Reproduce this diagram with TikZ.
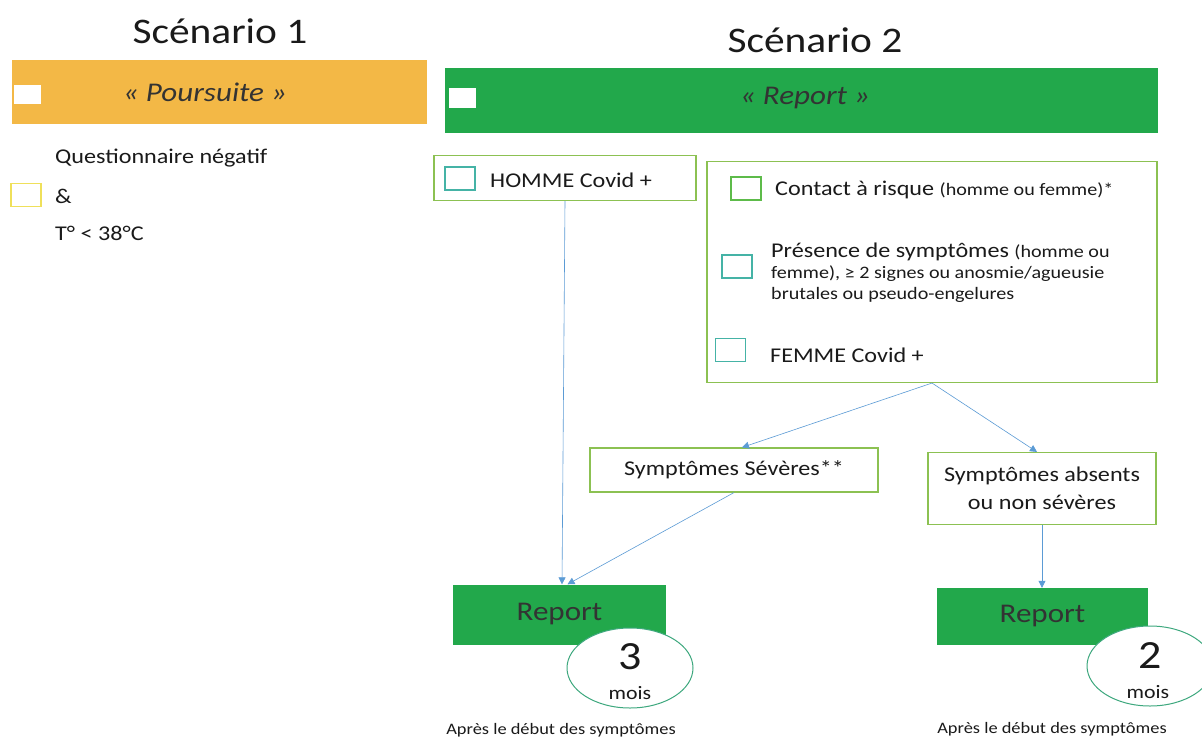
\documentclass[tikz,border=0pt]{standalone}
\usepackage{fontspec}
\setmainfont[FakeStretch=1.15]{Carlito}
\usetikzlibrary{arrows.meta,shapes.geometric}
\definecolor{orangebar}{HTML}{F3B846}
\definecolor{greenbar}{HTML}{22A84B}
\definecolor{boxline}{HTML}{8CC152}
\definecolor{tealsq}{HTML}{45B3A6}
\definecolor{greensq}{HTML}{5DBB4A}
\definecolor{yellowsq}{HTML}{EFE05A}
\definecolor{arrowblue}{HTML}{5B9BD5}
\definecolor{ellline}{HTML}{3EA87E}
\definecolor{txt}{HTML}{1A1A1A}
\definecolor{reptxt}{HTML}{333333}
\tikzset{
  title/.style={font=\fontsize{36}{42}\selectfont, text=txt, inner sep=0},
  bartext/.style={font=\fontsize{27}{31}\selectfont\itshape, text=reptxt, inner sep=0},
  body/.style={font=\fontsize{21}{25}\selectfont, text=txt, inner sep=0},
  outline/.style={draw=boxline, line width=1.1pt, fill=white, inner sep=0},
  chk/.style={line width=1.5pt, inner sep=0, minimum width=30, minimum height=23},
  repbox/.style={fill=greenbar, inner sep=0, text=reptxt, font=\fontsize{27}{32}\selectfont},
  months/.style={ellipse, draw=ellline, line width=1pt, fill=white, minimum width=126, minimum height=80, inner sep=0},
  conn/.style={draw=arrowblue, line width=0.6pt},
  arr/.style={conn, -{Triangle[width=7pt,length=7pt]}},
  note/.style={font=\fontsize{16}{19}\selectfont, text=txt, inner sep=0}
}
\begin{document}
\begin{tikzpicture}[x=1pt,y=-1pt]
\useasboundingbox (0,0) rectangle (1202,739);
\fill[white] (0,0) rectangle (1202,739);

% Scenario 1
\node[title] (t1) at (220,31) {Scénario 1};
\node[fill=orangebar, minimum width=415, minimum height=64, inner sep=0] (bar1) at (219.5,92) {};
\node[fill=white, minimum width=27, minimum height=19, inner sep=0] (w1) at (27.5,94) {};
\node[bartext] (p1) at (205,92) {« Poursuite »};
\node[chk, draw=yellowsq] (ysq) at (26,195) {};
\node[body, anchor=west] (q1) at (55,158) {Questionnaire négatif};
\node[body, anchor=west] (q2) at (55,196) {\&};
\node[body, anchor=west] (q3) at (55,233) {T° < 38°C};

% Scenario 2
\node[title] (t2) at (815,40) {Scénario 2};
\node[fill=greenbar, minimum width=713, minimum height=65, inner sep=0] (bar2) at (801.5,100.5) {};
\node[fill=white, minimum width=27, minimum height=20, inner sep=0] (w2) at (462.5,98) {};
\node[bartext] (p2) at (805,98) {« Report »};

% HOMME box
\node[outline, minimum width=262, minimum height=45] (homme) at (565,178) {};
\node[chk, draw=tealsq] (hsq) at (460,178.5) {};
\node[body, anchor=west] (htxt) at (490,180) {HOMME Covid +};

% big box
\node[outline, minimum width=450, minimum height=221] (big) at (932,272) {};
\node[chk, draw=greensq] (csq) at (746,188.5) {};
\node[body, anchor=west] (ctxt) at (775,190) {Contact à risque {\fontsize{17.5}{21}\selectfont (homme ou femme)*}};
\node[chk, draw=tealsq] (psq) at (737,266.5) {};
\node[body, anchor=north west, align=left, font=\fontsize{21}{22}\selectfont] (ptxt) at (771,243) {Présence de symptômes {\fontsize{17.5}{21}\selectfont (homme ou}\\[-1pt]
{\fontsize{17.5}{21}\selectfont femme), ≥ 2 signes ou anosmie/agueusie}\\[-1pt]
{\fontsize{17.5}{21}\selectfont brutales ou pseudo-engelures}};
\node[chk, draw=tealsq] (fsq) at (730.5,350) {};
\node[body, anchor=west] (ftxt) at (770,355) {FEMME Covid +};

% symptom boxes
\node[outline, minimum width=288, minimum height=44, body] (sev) at (734,470) {Symptômes Sévères**};
\node[outline, minimum width=228, minimum height=72, body, align=center, font=\fontsize{21}{28}\selectfont] (abs) at (1042,488.5) {Symptômes absents\\ou non sévères};

% report boxes
\node[repbox, minimum width=213, minimum height=60] (rep1) at (559.5,614.5) {\raisebox{-3pt}{Report}};
\node[repbox, minimum width=211, minimum height=57] (rep2) at (1042.5,616.5) {\raisebox{-3pt}{Report}};

\node[months] (m1) at (630,668) {};
\node[inner sep=0, font=\fontsize{40}{44}\selectfont, text=txt] (n1) at (630,657) {3};
\node[inner sep=0, font=\fontsize{19}{20}\selectfont, text=txt] (mo1) at (630,693) {mois};
\node[months] (m2) at (1150,666) {};
\node[inner sep=0, font=\fontsize{40}{44}\selectfont, text=txt] (n2) at (1150,656) {2};
\node[inner sep=0, font=\fontsize{19}{20}\selectfont, text=txt] (mo2) at (1148,692) {mois};

\node[note] (a1) at (561,730) {Après le début des symptômes};
\node[note] (a2) at (1052,729) {Après le début des symptômes};

% connectors
\draw[arr] (big.south) -- ([xshift=8]sev.north);
\draw[arr] (big.south) -- ([xshift=-5]abs.north);
\draw[arr] (homme.south) -- ([xshift=2.5]rep1.north);
\draw[arr] (sev.south) -- ([xshift=8]rep1.north);
\draw[arr] (abs.south) -- (abs.south |- rep2.north);
\end{tikzpicture}
\end{document}
